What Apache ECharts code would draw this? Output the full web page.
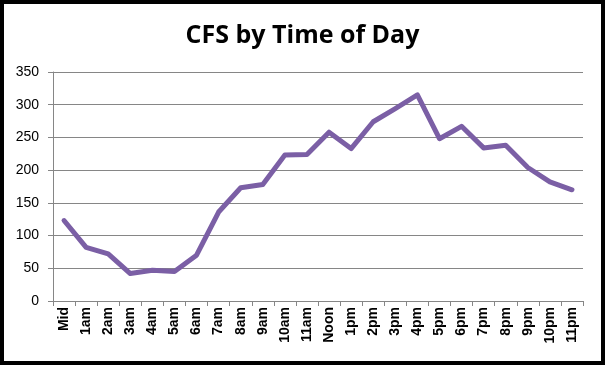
<!DOCTYPE html>
<html><head><meta charset="utf-8">
<script src="https://cdn.jsdelivr.net/npm/echarts@6/dist/echarts.min.js"></script>
<style>html,body{margin:0;padding:0;background:#fff}#c{width:605px;height:365px}</style>
</head><body><div id="c"></div>
<script>
var categories = ["Mid","1am","2am","3am","4am","5am","6am","7am","8am","9am","10am","11am","Noon","1pm","2pm","3pm","4pm","5pm","6pm","7pm","8pm","9pm","10pm","11pm"];
var cfsValues = [123,82,72,42,47,45,70,136,173,178,223,224,258,233,274,294,315,248,267,234,238,204,182,170];
var yTicks = [0,50,100,150,200,250,300,350];

var chart = echarts.init(document.getElementById('c'));
chart.setOption({
  animation: false,
  backgroundColor: '#fff',
  title: {
    text: 'CFS by Time of Day', left: 'center', top: 18,
    textStyle: {fontFamily: 'Open Sans', fontSize: 25, fontWeight: 'bold', color: '#000'}
  },
  graphic: [{type: 'rect', shape: {x: 2, y: 2, width: 601, height: 361}, style: {fill: 'none', stroke: '#000', lineWidth: 4}, z: 100}],
  grid: {left: 53, right: 22, top: 72, bottom: 64},
  xAxis: {
    type: 'category', data: categories, boundaryGap: true,
    axisLine: {lineStyle: {color: '#868686', width: 1}},
    axisTick: {show: true, length: 5, lineStyle: {color: '#868686'}},
    axisLabel: {rotate: 90, color: '#000', fontFamily: 'Liberation Sans', fontWeight: 'bold', fontSize: 14, margin: 6, interval: 0}
  },
  yAxis: {
    type: 'value', min: 0, max: 350, interval: 50,
    axisLine: {show: true, lineStyle: {color: '#868686'}},
    axisTick: {show: true, length: 5, lineStyle: {color: '#868686'}},
    splitLine: {lineStyle: {color: '#868686', width: 1}},
    axisLabel: {color: '#000', fontFamily: 'Liberation Sans', fontSize: 14, margin: 14,
      formatter: function(v){ return yTicks.indexOf(v) >= 0 ? String(v) : ''; }}
  },
  series: [{
    type: 'line', data: cfsValues, symbol: 'none',
    lineStyle: {color: '#7B5FA5', width: 5, join: 'round', cap: 'round'}
  }]
});
</script></body></html>
